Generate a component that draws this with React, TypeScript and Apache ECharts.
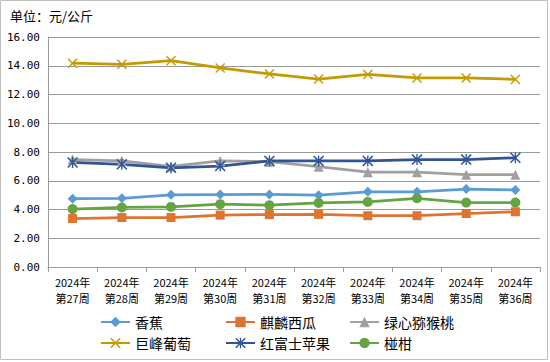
import React, { useEffect, useRef } from "react";
import * as echarts from "echarts";

const categories = [
  "2024年\n第27周", "2024年\n第28周", "2024年\n第29周", "2024年\n第30周", "2024年\n第31周",
  "2024年\n第32周", "2024年\n第33周", "2024年\n第34周", "2024年\n第35周", "2024年\n第36周",
];
const banana = [4.75, 4.78, 5.02, 5.04, 5.05, 5.0, 5.23, 5.23, 5.42, 5.36];
const watermelon = [3.37, 3.44, 3.44, 3.61, 3.65, 3.66, 3.57, 3.57, 3.72, 3.84];
const kiwi = [7.47, 7.39, 7.0, 7.38, 7.33, 6.98, 6.6, 6.6, 6.42, 6.42];
const grape = [14.18, 14.1, 14.35, 13.85, 13.43, 13.07, 13.4, 13.15, 13.15, 13.05];
const fuji = [7.27, 7.14, 6.9, 7.02, 7.38, 7.38, 7.38, 7.47, 7.47, 7.6];
const ponkan = [4.03, 4.14, 4.18, 4.37, 4.3, 4.46, 4.53, 4.78, 4.48, 4.48];
const yTicks = { min: 0, max: 16, interval: 2 };

const X_PATH =
  "path://M0,1 L1,0 L5,4 L9,0 L10,1 L6,5 L10,9 L9,10 L5,6 L1,10 L0,9 L4,5 Z";
const STAR_PATH =
  "path://M0,1 L1,0 L5,4 L9,0 L10,1 L6,5 L10,9 L9,10 L5,6 L1,10 L0,9 L4,5 Z M4.4,0 L5.6,0 L5.6,10 L4.4,10 Z";

const seriesDefs = [
  { name: "香蕉", data: banana, color: "#5B9BD5", symbol: "diamond", size: 10 },
  { name: "麒麟西瓜", data: watermelon, color: "#DE7430", symbol: "rect", size: 9 },
  { name: "绿心猕猴桃", data: kiwi, color: "#A0A0A0", symbol: "triangle", size: 10 },
  { name: "巨峰葡萄", data: grape, color: "#C49A00", symbol: X_PATH, size: 10 },
  { name: "红富士苹果", data: fuji, color: "#2F5597", symbol: STAR_PATH, size: 11 },
  { name: "椪柑", data: ponkan, color: "#65A443", symbol: "circle", size: 10 },
];

const legendPos = [
  { left: 100, top: 315 },
  { left: 225, top: 315 },
  { left: 349, top: 315 },
  { left: 100, top: 336 },
  { left: 225, top: 336 },
  { left: 349, top: 336 },
];

export default function App() {
  const ref = useRef<HTMLDivElement>(null);
  useEffect(() => {
    if (!ref.current) return;
    const chart = echarts.init(ref.current, undefined, { renderer: "svg" });
    const cjk = "'Noto Sans CJK SC', 'Noto Sans', sans-serif";
    chart.setOption({
      animation: false,
      backgroundColor: "#fff",
      textStyle: { fontFamily: cjk },
      graphic: [
        {
          type: "rect",
          shape: { x: 0.5, y: 0.5, width: 547, height: 359 },
          style: { fill: "none", stroke: "#BFBFBF", lineWidth: 1 },
          silent: true,
        },
        {
          type: "text",
          left: 10,
          top: 9,
          style: { text: "单位：元/公斤", font: `13px ${cjk}`, fill: "#000" },
        },
      ],
      legend: seriesDefs.map((s, i) => ({
        data: [s.name],
        left: legendPos[i].left,
        top: legendPos[i].top,
        padding: 0,
        itemWidth: 29,
        itemHeight: 13,
        itemGap: 0,
        selectedMode: false,
        textStyle: { fontSize: 14, color: "#000", fontFamily: cjk, padding: [0, 0, 0, 0] },
      })),
      grid: { left: 48, right: 10, top: 37, bottom: 95, containLabel: false },
      xAxis: {
        type: "category",
        data: categories,
        boundaryGap: true,
        axisLine: { lineStyle: { color: "#999", width: 1 } },
        axisTick: { show: true, interval: 0, length: 5, lineStyle: { color: "#999" } },
        axisLabel: {
          interval: 0,
          color: "#000",
          fontSize: 11,
          lineHeight: 16,
          margin: 7,
          fontFamily: cjk,
        },
      },
      yAxis: {
        type: "value",
        min: yTicks.min,
        max: yTicks.max,
        interval: yTicks.interval,
        axisLine: { show: true, lineStyle: { color: "#999" } },
        axisTick: { show: false },
        splitLine: { lineStyle: { color: "#999", width: 1 } },
        axisLabel: {
          color: "#000",
          fontSize: 11,
          margin: 8,
          fontFamily: "'DejaVu Sans Mono', monospace",
          formatter: (v: number) => v.toFixed(2),
        },
      },
      series: seriesDefs.map((s) => ({
        name: s.name,
        type: "line",
        data: s.data,
        symbol: s.symbol,
        symbolSize: s.size,
        showSymbol: true,
        lineStyle: { color: s.color, width: 2.75 },
        itemStyle: { color: s.color },
      })),
    });
    return () => chart.dispose();
  }, []);
  return (
    <div
      ref={ref}
      style={{ position: "fixed", left: 0, top: 0, width: 550, height: 362 }}
    />
  );
}
